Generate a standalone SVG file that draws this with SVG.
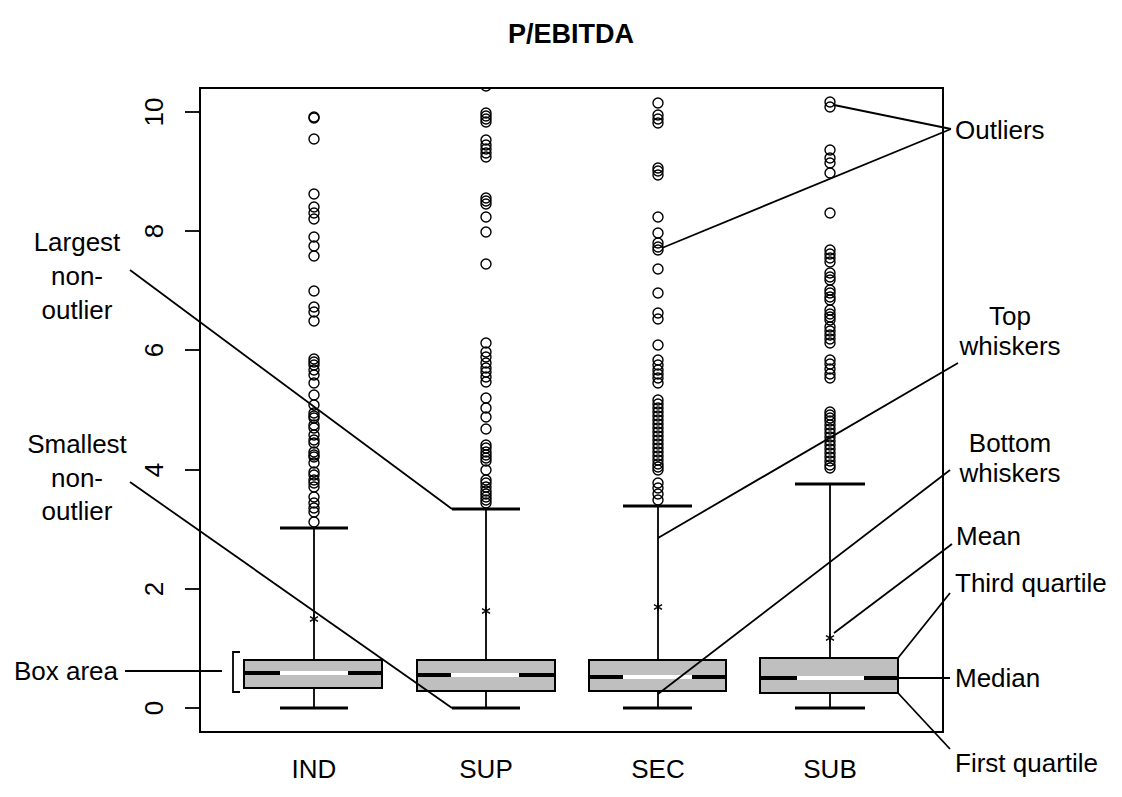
<svg xmlns="http://www.w3.org/2000/svg" width="1122" height="797" viewBox="0 0 1122 797">
<style>
text{font-family:"Liberation Sans",Arial,sans-serif;font-size:26px;fill:#000}
.title{font-size:27px;font-weight:bold}
.ax{font-size:26px}
.box{fill:#bfbfbf;stroke:#000;stroke-width:2}
.med{stroke:#000;stroke-width:4}
.medw{stroke:#fff;stroke-width:4}
.wh{stroke:#000;stroke-width:1.8}
.cap{stroke:#000;stroke-width:3}
.o{fill:none;stroke:#000;stroke-width:1.4}
.ld{stroke:#000;stroke-width:1.8;fill:none}
.fr{fill:none;stroke:#000;stroke-width:2}
</style>
<defs>
<clipPath id="pc"><rect x="200" y="88" width="743" height="644"/></clipPath>
<path id="star" d="M0,-4.5V4.5M-4,-2.3L4,2.3M-4,2.3L4,-2.3" stroke="#000" stroke-width="1.4" fill="none"/>
</defs>
<rect width="1122" height="797" fill="#fff"/>
<text class="title" x="571" y="43" text-anchor="middle">P/EBITDA</text>
<g id="frame">
<rect class="fr" x="200" y="88" width="743" height="644"/>
<g stroke="#000" stroke-width="1.8">
<line x1="185" y1="708" x2="200" y2="708"/><line x1="185" y1="589" x2="200" y2="589"/><line x1="185" y1="470" x2="200" y2="470"/><line x1="185" y1="350" x2="200" y2="350"/><line x1="185" y1="231" x2="200" y2="231"/><line x1="185" y1="112" x2="200" y2="112"/>
</g>
<g class="ax" text-anchor="middle">
<text class="ax" transform="translate(163,708) rotate(-90)">0</text>
<text class="ax" transform="translate(163,589) rotate(-90)">2</text>
<text class="ax" transform="translate(163,470) rotate(-90)">4</text>
<text class="ax" transform="translate(163,350) rotate(-90)">6</text>
<text class="ax" transform="translate(163,231) rotate(-90)">8</text>
<text class="ax" transform="translate(163,112) rotate(-90)">10</text>
</g>
<text class="ax" x="314" y="778" text-anchor="middle">IND</text>
<text class="ax" x="486" y="778" text-anchor="middle">SUP</text>
<text class="ax" x="658" y="778" text-anchor="middle">SEC</text>
<text class="ax" x="830" y="778" text-anchor="middle">SUB</text>
</g>
<g id="ind">
<line class="wh" x1="314" y1="528" x2="314" y2="660"/><line class="wh" x1="314" y1="688" x2="314" y2="708"/>
<line class="cap" x1="280" y1="528" x2="348" y2="528"/><line class="cap" x1="280" y1="708" x2="348" y2="708"/>
<rect class="box" x="244" y="660" width="138" height="28"/>
<line class="med" x1="244" y1="673" x2="382" y2="673"/><line class="medw" x1="280" y1="673" x2="348" y2="673"/>
<use href="#star" x="314" y="619"/>
<g class="o" clip-path="url(#pc)">
<circle cx="314" cy="117" r="5"/><circle cx="314" cy="118" r="5"/><circle cx="314" cy="139" r="5"/><circle cx="314" cy="194" r="5"/><circle cx="314" cy="207" r="5"/><circle cx="314" cy="213" r="5"/><circle cx="314" cy="219" r="5"/><circle cx="314" cy="237" r="5"/><circle cx="314" cy="246" r="5"/><circle cx="314" cy="256" r="5"/><circle cx="314" cy="291" r="5"/><circle cx="314" cy="307" r="5"/><circle cx="314" cy="312" r="5"/><circle cx="314" cy="321" r="5"/><circle cx="314" cy="359" r="5"/><circle cx="314" cy="362" r="5"/><circle cx="314" cy="365" r="5"/><circle cx="314" cy="370" r="5"/><circle cx="314" cy="375" r="5"/><circle cx="314" cy="383" r="5"/><circle cx="314" cy="395" r="5"/><circle cx="314" cy="405" r="5"/><circle cx="314" cy="413" r="5"/><circle cx="314" cy="416" r="5"/><circle cx="314" cy="418" r="5"/><circle cx="314" cy="425" r="5"/><circle cx="314" cy="428" r="5"/><circle cx="314" cy="435" r="5"/><circle cx="314" cy="440" r="5"/><circle cx="314" cy="443" r="5"/><circle cx="314" cy="452" r="5"/><circle cx="314" cy="455" r="5"/><circle cx="314" cy="457" r="5"/><circle cx="314" cy="463" r="5"/><circle cx="314" cy="472" r="5"/><circle cx="314" cy="475" r="5"/><circle cx="314" cy="480" r="5"/><circle cx="314" cy="483" r="5"/><circle cx="314" cy="487" r="5"/><circle cx="314" cy="497" r="5"/><circle cx="314" cy="503" r="5"/><circle cx="314" cy="508" r="5"/><circle cx="314" cy="512" r="5"/><circle cx="314" cy="522" r="5"/>
</g>
</g>
<g id="sup">
<line class="wh" x1="486" y1="509" x2="486" y2="660"/><line class="wh" x1="486" y1="691" x2="486" y2="708"/>
<line class="cap" x1="452" y1="509" x2="520" y2="509"/><line class="cap" x1="452" y1="708" x2="520" y2="708"/>
<rect class="box" x="417" y="660" width="138" height="31"/>
<line class="med" x1="417" y1="675" x2="555" y2="675"/><line class="medw" x1="451" y1="675" x2="519" y2="675"/>
<use href="#star" x="486" y="611"/>
<g class="o" clip-path="url(#pc)">
<circle cx="486" cy="86" r="5"/><circle cx="486" cy="113" r="5"/><circle cx="486" cy="116" r="5"/><circle cx="486" cy="119" r="5"/><circle cx="486" cy="122" r="5"/><circle cx="486" cy="140" r="5"/><circle cx="486" cy="145" r="5"/><circle cx="486" cy="149" r="5"/><circle cx="486" cy="153" r="5"/><circle cx="486" cy="157" r="5"/><circle cx="486" cy="198" r="5"/><circle cx="486" cy="201" r="5"/><circle cx="486" cy="204" r="5"/><circle cx="486" cy="217" r="5"/><circle cx="486" cy="232" r="5"/><circle cx="486" cy="264" r="5"/><circle cx="486" cy="343" r="5"/><circle cx="486" cy="352" r="5"/><circle cx="486" cy="357" r="5"/><circle cx="486" cy="363" r="5"/><circle cx="486" cy="368" r="5"/><circle cx="486" cy="372" r="5"/><circle cx="486" cy="377" r="5"/><circle cx="486" cy="382" r="5"/><circle cx="486" cy="398" r="5"/><circle cx="486" cy="408" r="5"/><circle cx="486" cy="417" r="5"/><circle cx="486" cy="429" r="5"/><circle cx="486" cy="445" r="5"/><circle cx="486" cy="448" r="5"/><circle cx="486" cy="452" r="5"/><circle cx="486" cy="455" r="5"/><circle cx="486" cy="458" r="5"/><circle cx="486" cy="461" r="5"/><circle cx="486" cy="470" r="5"/><circle cx="486" cy="480" r="5"/><circle cx="486" cy="483" r="5"/><circle cx="486" cy="487" r="5"/><circle cx="486" cy="491" r="5"/><circle cx="486" cy="494" r="5"/><circle cx="486" cy="497" r="5"/><circle cx="486" cy="500" r="5"/><circle cx="486" cy="503" r="5"/>
</g>
</g>
<g id="sec">
<line class="wh" x1="658" y1="506" x2="658" y2="660"/><line class="wh" x1="658" y1="691" x2="658" y2="708"/>
<line class="cap" x1="623" y1="506" x2="692" y2="506"/><line class="cap" x1="623" y1="708" x2="692" y2="708"/>
<rect class="box" x="589" y="660" width="137" height="31"/>
<line class="med" x1="589" y1="677" x2="726" y2="677"/><line class="medw" x1="623" y1="677" x2="692" y2="677"/>
<use href="#star" x="658" y="607"/>
<g class="o" clip-path="url(#pc)">
<circle cx="658" cy="103" r="5"/><circle cx="658" cy="115" r="5"/><circle cx="658" cy="119" r="5"/><circle cx="658" cy="123" r="5"/><circle cx="658" cy="168" r="5"/><circle cx="658" cy="171" r="5"/><circle cx="658" cy="175" r="5"/><circle cx="658" cy="217" r="5"/><circle cx="658" cy="233" r="5"/><circle cx="658" cy="243" r="5"/><circle cx="658" cy="247" r="5"/><circle cx="658" cy="250" r="5"/><circle cx="658" cy="269" r="5"/><circle cx="658" cy="293" r="5"/><circle cx="658" cy="313" r="5"/><circle cx="658" cy="319" r="5"/><circle cx="658" cy="345" r="5"/><circle cx="658" cy="360" r="5"/><circle cx="658" cy="365" r="5"/><circle cx="658" cy="370" r="5"/><circle cx="658" cy="374" r="5"/><circle cx="658" cy="378" r="5"/><circle cx="658" cy="383" r="5"/><circle cx="658" cy="400" r="5"/><circle cx="658" cy="404" r="5"/><circle cx="658" cy="408" r="5"/><circle cx="658" cy="412" r="5"/><circle cx="658" cy="416" r="5"/><circle cx="658" cy="420" r="5"/><circle cx="658" cy="424" r="5"/><circle cx="658" cy="428" r="5"/><circle cx="658" cy="432" r="5"/><circle cx="658" cy="436" r="5"/><circle cx="658" cy="440" r="5"/><circle cx="658" cy="444" r="5"/><circle cx="658" cy="448" r="5"/><circle cx="658" cy="452" r="5"/><circle cx="658" cy="456" r="5"/><circle cx="658" cy="460" r="5"/><circle cx="658" cy="464" r="5"/><circle cx="658" cy="467" r="5"/><circle cx="658" cy="470" r="5"/><circle cx="658" cy="483" r="5"/><circle cx="658" cy="488" r="5"/><circle cx="658" cy="494" r="5"/><circle cx="658" cy="500" r="5"/>
</g>
</g>
<g id="sub">
<line class="wh" x1="830" y1="484" x2="830" y2="658"/><line class="wh" x1="830" y1="693" x2="830" y2="708"/>
<line class="cap" x1="795" y1="484" x2="865" y2="484"/><line class="cap" x1="795" y1="708" x2="865" y2="708"/>
<rect class="box" x="760" y="658" width="138" height="35"/>
<line class="med" x1="760" y1="678" x2="898" y2="678"/><line class="medw" x1="797" y1="678" x2="864" y2="678"/>
<use href="#star" x="830" y="638"/>
<g class="o" clip-path="url(#pc)">
<circle cx="830" cy="102" r="5"/><circle cx="830" cy="107" r="5"/><circle cx="830" cy="150" r="5"/><circle cx="830" cy="158" r="5"/><circle cx="830" cy="163" r="5"/><circle cx="830" cy="173" r="5"/><circle cx="830" cy="213" r="5"/><circle cx="830" cy="250" r="5"/><circle cx="830" cy="254" r="5"/><circle cx="830" cy="258" r="5"/><circle cx="830" cy="262" r="5"/><circle cx="830" cy="273" r="5"/><circle cx="830" cy="277" r="5"/><circle cx="830" cy="280" r="5"/><circle cx="830" cy="290" r="5"/><circle cx="830" cy="293" r="5"/><circle cx="830" cy="297" r="5"/><circle cx="830" cy="300" r="5"/><circle cx="830" cy="310" r="5"/><circle cx="830" cy="314" r="5"/><circle cx="830" cy="317" r="5"/><circle cx="830" cy="320" r="5"/><circle cx="830" cy="327" r="5"/><circle cx="830" cy="331" r="5"/><circle cx="830" cy="335" r="5"/><circle cx="830" cy="339" r="5"/><circle cx="830" cy="343" r="5"/><circle cx="830" cy="360" r="5"/><circle cx="830" cy="364" r="5"/><circle cx="830" cy="369" r="5"/><circle cx="830" cy="374" r="5"/><circle cx="830" cy="378" r="5"/><circle cx="830" cy="412" r="5"/><circle cx="830" cy="415" r="5"/><circle cx="830" cy="418" r="5"/><circle cx="830" cy="421" r="5"/><circle cx="830" cy="425" r="5"/><circle cx="830" cy="429" r="5"/><circle cx="830" cy="433" r="5"/><circle cx="830" cy="437" r="5"/><circle cx="830" cy="441" r="5"/><circle cx="830" cy="445" r="5"/><circle cx="830" cy="449" r="5"/><circle cx="830" cy="453" r="5"/><circle cx="830" cy="457" r="5"/><circle cx="830" cy="461" r="5"/><circle cx="830" cy="465" r="5"/><circle cx="830" cy="468" r="5"/>
</g>
</g>
<g id="connectors" class="ld">
<path d="M125,671H222M240,652H233V692H240"/>
<line x1="130" y1="270" x2="452" y2="509"/>
<line x1="130" y1="482" x2="452" y2="708"/>
<line x1="834" y1="105" x2="951" y2="129"/>
<line x1="662" y1="248" x2="951" y2="129"/>
<line x1="658" y1="538" x2="958" y2="363"/>
<line x1="658" y1="694" x2="950" y2="470"/>
<line x1="834" y1="633" x2="952" y2="544"/>
<line x1="898" y1="658" x2="950" y2="593"/>
<line x1="898" y1="678" x2="950" y2="678"/>
<line x1="898" y1="693" x2="950" y2="749"/>
</g>
<g id="labels">
<text x="118" y="680" text-anchor="end">Box area</text>
<g text-anchor="middle"><text x="77" y="251">Largest</text><text x="77" y="285">non-</text><text x="77" y="319">outlier</text></g>
<g text-anchor="middle"><text x="77" y="453">Smallest</text><text x="77" y="487">non-</text><text x="77" y="520">outlier</text></g>
<text x="955" y="139">Outliers</text>
<g text-anchor="middle"><text x="1010" y="325">Top</text><text x="1010" y="355">whiskers</text></g>
<g text-anchor="middle"><text x="1010" y="452">Bottom</text><text x="1010" y="482">whiskers</text></g>
<text x="956" y="545">Mean</text>
<text x="955" y="592">Third quartile</text>
<text x="955" y="687">Median</text>
<text x="955" y="772">First quartile</text>
</g>
</svg>
